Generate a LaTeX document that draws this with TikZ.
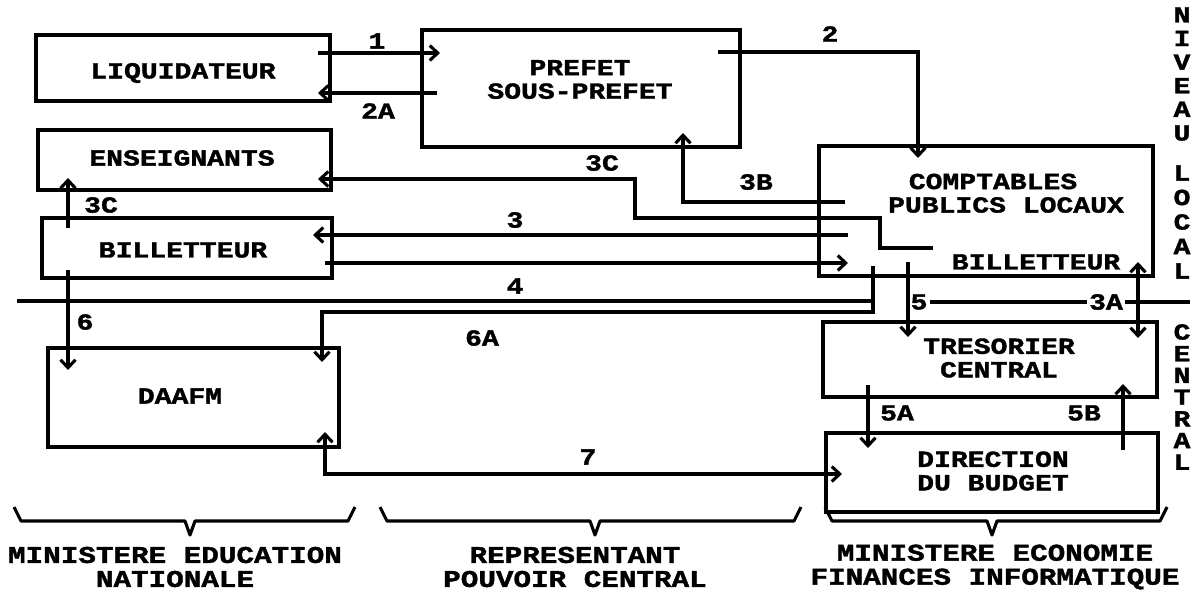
\documentclass[tikz,border=0pt]{standalone}
\usepackage{fontspec}
\usetikzlibrary{arrows.meta}
\newfontfamily\rf{Liberation Mono Bold}[FakeBold=1.6,FakeStretch=1.22]
\begin{document}
\begin{tikzpicture}[x=1pt,y=-1pt,
  box/.style={draw, line width=3.1pt, inner sep=0pt, outer sep=0pt},
  txt/.style={font=\rf\fontsize{23}{23.5}\selectfont, inner sep=0pt, align=center},
  lbl/.style={font=\rf\fontsize{23}{24}\selectfont, inner sep=2pt},
  con/.style={line width=3.1pt},
  arr/.style={con, -{Straight Barb[length=8pt,width=15pt]}},
  darr/.style={con, {Straight Barb[length=8pt,width=15pt]}-{Straight Barb[length=8pt,width=15pt]}},
  brace/.style={line width=3.1pt, line join=round}
]
\fill[white] (0,0) rectangle (1196,594);
\useasboundingbox (0,0) rectangle (1196,594);

% boxes
\node[box, minimum width=294pt, minimum height=66pt] (liq) at (183,68) {};
\node[box, minimum width=293pt, minimum height=60pt] (ens) at (184.5,160) {};
\node[box, minimum width=290pt, minimum height=60pt] (bil) at (187,248) {};
\node[box, minimum width=291pt, minimum height=99pt] (daf) at (193.5,397.5) {};
\node[box, minimum width=318pt, minimum height=117pt] (pref) at (581,88.5) {};
\node[box, minimum width=334pt, minimum height=130pt] (comp) at (986,211) {};
\node[box, minimum width=334pt, minimum height=75pt] (tres) at (990,359.5) {};
\node[box, minimum width=332pt, minimum height=79pt] (dir) at (992,472.5) {};

% box texts
\node[txt] (liqt) at (183,73) {LIQUIDATEUR};
\node[txt] (enst) at (182,158) {ENSEIGNANTS};
\node[txt] (bilt) at (183,250) {BILLETTEUR};
\node[txt] (daft) at (180,396) {DAAFM};
\node[txt] (preft) at (580,79.5) {PREFET\\SOUS-PREFET};
\node[txt] (compt1) at (993,181.5) {COMPTABLES};
\node[txt] (compt2) at (1006,205) {PUBLICS LOCAUX};
\node[txt] (compt3) at (1036,262) {BILLETTEUR};
\node[txt] (trest) at (999,358) {TRESORIER\\CENTRAL};
\node[txt] (dirt) at (993,471) {DIRECTION\\DU BUDGET};

% side texts
\node[txt, font=\rf\fontsize{23}{23.6}\selectfont] (niv) at (1182,74) {N\\I\\V\\E\\A\\U};
\node[txt, font=\rf\fontsize{23}{24.5}\selectfont] (loc) at (1182,222) {L\\O\\C\\A\\L};
\node[txt, font=\rf\fontsize{23}{21.7}\selectfont] (cen) at (1182,397) {C\\E\\N\\T\\R\\A\\L};

% connector labels
\node[lbl] (l1) at (377,41) {1};
\node[lbl] (l2A) at (378,111) {2A};
\node[lbl] (l2) at (830,34) {2};
\node[lbl] (l3Cm) at (602,163) {3C};
\node[lbl] (l3B) at (756,182) {3B};
\node[lbl] (l3) at (515,220) {3};
\node[lbl] (l4) at (515,286) {4};
\node[lbl] (l6A) at (482,338) {6A};
\node[lbl] (l7) at (588,457) {7};
\node[lbl] (l3Cl) at (101,205) {3C};
\node[lbl] (l6) at (85,322) {6};
\node[lbl] (l5) at (919,302) {5};
\node[lbl] (l3A) at (1106,302) {3A};
\node[lbl] (l5A) at (897,413) {5A};
\node[lbl] (l5B) at (1084,413) {5B};

\coordinate (wL) at (17,301);
\coordinate (sR) at (1190,302);

% connectors
\draw[arr] ([shift={(-12,-15)}]liq.east) -- ([shift={(18,-35.5)}]pref.west);
\draw[arr] ([shift={(15,4.5)}]pref.west) -- ([shift={(-12,25)}]liq.east);
\draw[arr] ([shift={(-22,-36.5)}]pref.east) -| ([shift={(-68,12)}]comp.north);
\draw[arr] ([shift={(26,-9)}]comp.west) -| ([shift={(102,-14)}]pref.south);
\draw[arr] ([shift={(114,37)}]comp.west) -- ++(-53,0) -- ++(0,-30) -- ++(-245,0) |- ([shift={(-13,19)}]ens.east);
\draw[arr] ([shift={(29,24)}]comp.west) -- ([shift={(-19,-13)}]bil.east);
\draw[arr] ([shift={(-7,15)}]bil.east) -- ([shift={(29,52)}]comp.west);
\draw[arr] ([shift={(-119,10)}]bil.north) -- ([shift={(-116.5,-12)}]ens.south);
\draw[arr] ([shift={(-119,-8)}]bil.south) -- ([shift={(-125.5,22)}]daf.north);
\draw[con] ([shift={(-113,-10)}]comp.south) |- (wL);
\draw[arr] ([shift={(-113,-10)}]comp.south) -- ++(0,46) -| ([shift={(128.5,14)}]daf.north);
\draw[con] (l5.east) -- (l3A.west);
\draw[con] (l3A.east) -- (sR);
\draw[arr] ([shift={(-78,-14)}]comp.south) -- ([shift={(-82,15)}]tres.north);
\draw[darr] ([shift={(152,-14)}]comp.south) -- ([shift={(148,16)}]tres.north);
\draw[arr] ([shift={(-122,-12)}]tres.south) -- ([shift={(-124,15)}]dir.north);
\draw[arr] ([shift={(131,17)}]dir.north) -- ([shift={(133,-13)}]tres.south);
\draw[darr] ([shift={(131.5,-15)}]daf.south) |- ([shift={(16,1.5)}]dir.west);

% braces
\draw[brace] (14,507) -- (21,521) -- (185,521) -- (190,535) -- (195,521) -- (348,521) -- (355,507);
\draw[brace] (380,507) -- (387,521) -- (590,521) -- (595,535) -- (600,521) -- (794,521) -- (801,507);
\draw[brace] (825,507) -- (832,521) -- (987,521) -- (992,535) -- (997,521) -- (1160,521) -- (1167,507);

% bottom texts
\node[txt, font=\rf\fontsize{24}{24}\selectfont] (m1) at (175,567) {MINISTERE EDUCATION\\NATIONALE};
\node[txt, font=\rf\fontsize{24}{24}\selectfont] (m2) at (575,567) {REPRESENTANT\\POUVOIR CENTRAL};
\node[txt, font=\rf\fontsize{24}{24}\selectfont] (m3) at (995,567) {MINISTERE ECONOMIE\\FINANCES INFORMATIQUE};
\end{tikzpicture}
\end{document}
